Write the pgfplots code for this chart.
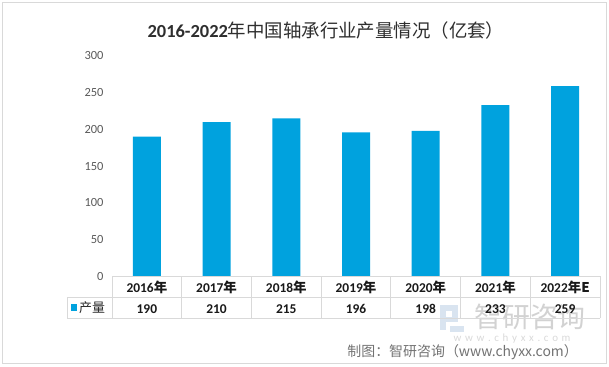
\documentclass[border=0pt]{standalone}
\usepackage{pgfplots}
\pgfplotsset{compat=1.18}
\usepackage{fontspec}
\setmainfont{Carlito}
\newfontfamily\cjk{Noto Sans CJK SC}
\definecolor{barblue}{RGB}{0,162,222}
\definecolor{gridgray}{RGB}{217,217,217}
\definecolor{txtgray}{RGB}{89,89,89}
\definecolor{logoblue}{RGB}{185,205,228}
\begin{document}
\begin{tikzpicture}[x=1bp,y=1bp]
\useasboundingbox (0,0) rectangle (609,366);
\draw[gridgray, line width=1bp] (2.5,2.5) rectangle (606,363.5);
% watermark (behind everything)
\begin{scope}[opacity=0.55]
\fill[logoblue] (440,36) rectangle (446,61);
\fill[logoblue] (446,55) rectangle (458,61);
\fill[logoblue] (452,44) rectangle (458,55);
\fill[logoblue] (446,44) rectangle (452,49);
\fill[logoblue] (450,34) rectangle (464,40);
\end{scope}
\node[text=gray!35, font=\cjk\fontsize{28}{28}\selectfont, inner sep=0pt] at (530,49) {智研咨询};
\node[text=gray!30, font=\fontsize{11}{11}\selectfont, inner sep=0pt] at (512,27) {w\,\,w\,\,w\,\,.\,\,c\,\,h\,\,y\,\,x\,\,x\,\,.\,\,c\,\,o\,\,m};
\node[font=\fontsize{18.5}{20}\selectfont, text=black!82] at (326,336) {\textbf{2016-2022}\cjk{年中国轴承行业产量情况（亿套）}};
\begin{axis}[
  at={(112bp,90bp)}, anchor=south west,
  scale only axis, width=488bp, height=220bp,
  ymin=0, ymax=300, ytick={0,50,100,150,200,250,300},
  xmin=-0.5, xmax=6.5,
  axis line style={draw=none},
  major tick length=0pt,
  /pgf/number format/assume math mode=true,
  yticklabel style={font=\fontsize{12.5}{12.5}\selectfont, text=txtgray, xshift=-5bp},
  xtick={0,1,2,3,4,5,6},
  xticklabels={{2016\cjk{年}\\190},{2017\cjk{年}\\210},{2018\cjk{年}\\215},{2019\cjk{年}\\196},{2020\cjk{年}\\198},{2021\cjk{年}\\233},{2022\cjk{年}E\\259}},
  xticklabel style={align=center, font=\fontsize{13.5}{21}\selectfont\bfseries, text=black!90, anchor=center, yshift=-21.5bp},
  clip=false,
]
\addplot[ybar, bar width=28bp, fill=barblue, draw=none] coordinates {(0,190) (1,210) (2,215) (3,196) (4,198) (5,233) (6,259)};
\end{axis}
% data table grid
\draw[gridgray, line width=0.8bp] (112,90) -- (600,90);
\draw[gridgray, line width=0.8bp] (67,69) -- (600,69);
\draw[gridgray, line width=0.8bp] (67,48) -- (600,48);
\draw[gridgray, line width=0.8bp] (67,69) -- (67,48);
\foreach \i in {0,...,7} {\draw[gridgray, line width=0.8bp] ({112+\i*488/7},90) -- ({112+\i*488/7},48);}
% legend key
\fill[barblue] (71,55) rectangle (77,62);
\node[anchor=west, font=\cjk\fontsize{13}{13}\selectfont, text=black!85, inner sep=1bp] at (78,58.5) {产量};
\node[anchor=east, text=txtgray!85, font=\fontsize{14}{14}\selectfont, inner sep=0pt] at (578,14) {\cjk{制图：智研咨询（}www.chyxx.com\cjk{）}};
\end{tikzpicture}
\end{document}
